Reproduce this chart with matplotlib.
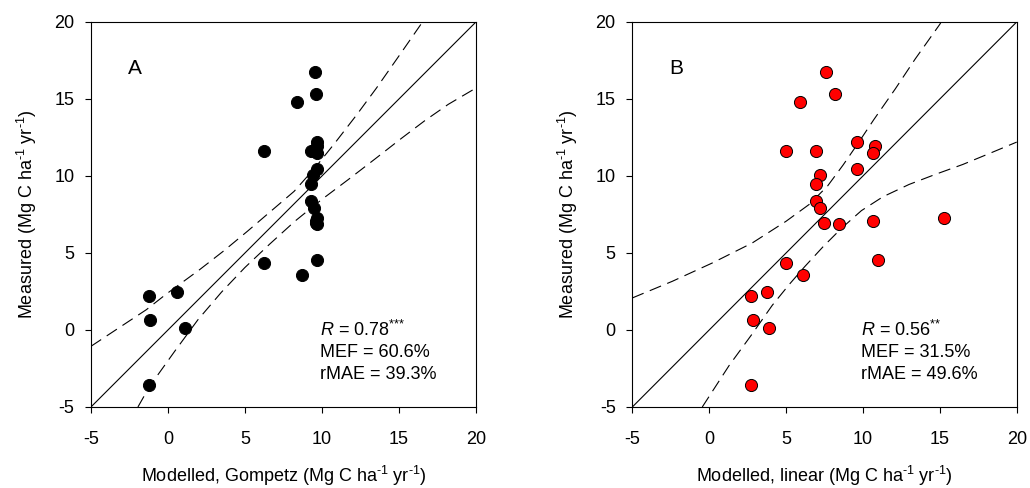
import numpy as np
import matplotlib

matplotlib.use("Agg")
import matplotlib.pyplot as plt

plt.rcParams["font.family"] = ["Liberation Sans", "DejaVu Sans"]
plt.rcParams["mathtext.fontset"] = "custom"
plt.rcParams["mathtext.rm"] = "Liberation Sans"
plt.rcParams["mathtext.it"] = "Liberation Sans:italic"
plt.rcParams["axes.unicode_minus"] = False

# Measured values (shared by both panels)
measured = [16.75, 15.35, 14.78, 12.21, 11.93, 11.62, 11.62, 11.49, 10.45, 10.06,
            9.46, 8.38, 7.94, 7.25, 7.06, 6.95, 6.86, 4.57, 4.35, 3.55,
            2.45, 2.23, 0.63, 0.15, -3.55]
# Modelled with the Gompertz function
gompertz = [9.55, 9.6, 8.41, 9.65, 9.7, 6.26, 9.26, 9.7, 9.7, 9.44,
            9.31, 9.28, 9.48, 9.65, 9.62, 9.6, 9.65, 9.65, 6.26, 8.73,
            0.6, -1.21, -1.19, 1.1, -1.21]
# Modelled with the linear function
linear = [7.59, 8.18, 5.9, 9.61, 10.76, 4.99, 6.92, 10.63, 9.61, 7.22,
          6.92, 6.92, 7.22, 15.29, 10.63, 7.48, 8.46, 10.97, 4.99, 6.12,
          3.73, 2.72, 2.82, 3.86, 2.72]

# 95% confidence bands of the regression
band_a_up_x = [-5, -1.4, -0.1, 2.06, 3.64, 5.16, 6.68, 8.19, 9.54, 10.84, 12.24, 13.54, 15.06, 16.6]
band_a_up_y = [-1.06, 1.32, 2.34, 3.92, 5.15, 6.41, 7.71, 9.0, 10.52, 12.14, 13.95, 15.71, 17.88, 20.1]
band_a_lo_x = [-1.95, -1.19, 0.44, 1.95, 3.47, 4.99, 6.61, 8.24, 9.97, 11.7, 13.44, 15.17, 16.69, 18.2, 20]
band_a_lo_y = [-5, -3.66, -1.38, 0.67, 2.45, 4.05, 5.58, 7.06, 8.46, 9.76, 11.1, 12.45, 13.6, 14.65, 15.71]
band_b_up_x = [-5, -2.4, 0.2, 2.8, 5.0, 6.5, 7.7, 8.7, 9.7, 10.7, 12.1, 13.4, 15.0, 15.2]
band_b_up_y = [2.08, 3.16, 4.35, 5.65, 7.06, 8.15, 9.35, 10.7, 12.15, 13.65, 15.65, 17.6, 19.85, 20.2]
band_b_lo_x = [-0.45, 1.3, 2.8, 4.1, 5.2, 6.2, 7.4, 8.6, 9.9, 11.3, 13.0, 14.7, 16.5, 18.2, 20]
band_b_lo_y = [-5, -2.3, -0.25, 1.6, 2.95, 4.1, 5.4, 6.6, 7.75, 8.65, 9.45, 10.1, 10.75, 11.45, 12.2]

stats_a = ["0.78", "60.6", "39.3", "***"]
stats_b = ["0.56", "31.5", "49.6", "**"]
ticks = [-5, 0, 5, 10, 15, 20]
unit = r"(Mg C ha$^{\text{-1}}$ yr$^{\text{-1}}$)"


def draw_panel(ax, xvals, bands, letter, stats, face, xlabel):
    ax.plot([-5, 20], [-5, 20], color="black", lw=0.8, zorder=2)
    for bx, by in bands:
        ax.plot(bx, by, color="black", lw=0.8, dashes=(11, 6), zorder=2)
    ax.scatter(xvals, measured, s=76, color=face, edgecolor="black",
               linewidth=0.7, zorder=3)
    ax.set_xlim(-5, 20)
    ax.set_ylim(-5, 20)
    ax.set_xticks(ticks)
    ax.set_yticks(ticks)
    ax.tick_params(direction="out", length=4, width=0.8, labelsize=13)
    ax.tick_params(axis="x", pad=13)
    ax.tick_params(axis="y", pad=8)
    for sp in ax.spines.values():
        sp.set_linewidth(0.8)
    ax.text(-2.6, 17.0, letter, fontsize=15, ha="left", va="center")
    r, mef, rmae, stars = stats
    ax.text(9.9, 0.0, rf"$R$ = {r}$^{{\text{{{stars}}}}}$", fontsize=13, va="center")
    ax.text(9.9, -1.45, f"MEF = {mef}%", fontsize=13, va="center")
    ax.text(9.9, -2.9, f"rMAE = {rmae}%", fontsize=13, va="center")
    ax.set_xlabel(xlabel, fontsize=13, labelpad=12)
    ax.set_ylabel("Measured " + unit, fontsize=13, labelpad=11)


fig = plt.figure(figsize=(10.3, 4.88), dpi=100)
ax_a = fig.add_axes([0.0883, 0.166, 0.3738, 0.789])
ax_b = fig.add_axes([0.6139, 0.166, 0.3732, 0.789])
draw_panel(ax_a, gompertz, [(band_a_up_x, band_a_up_y), (band_a_lo_x, band_a_lo_y)],
           "A", stats_a, "black", "Modelled, Gompetz " + unit)
draw_panel(ax_b, linear, [(band_b_up_x, band_b_up_y), (band_b_lo_x, band_b_lo_y)],
           "B", stats_b, "#ff0000", "Modelled, linear " + unit)
fig.savefig("out.png", dpi=100)
